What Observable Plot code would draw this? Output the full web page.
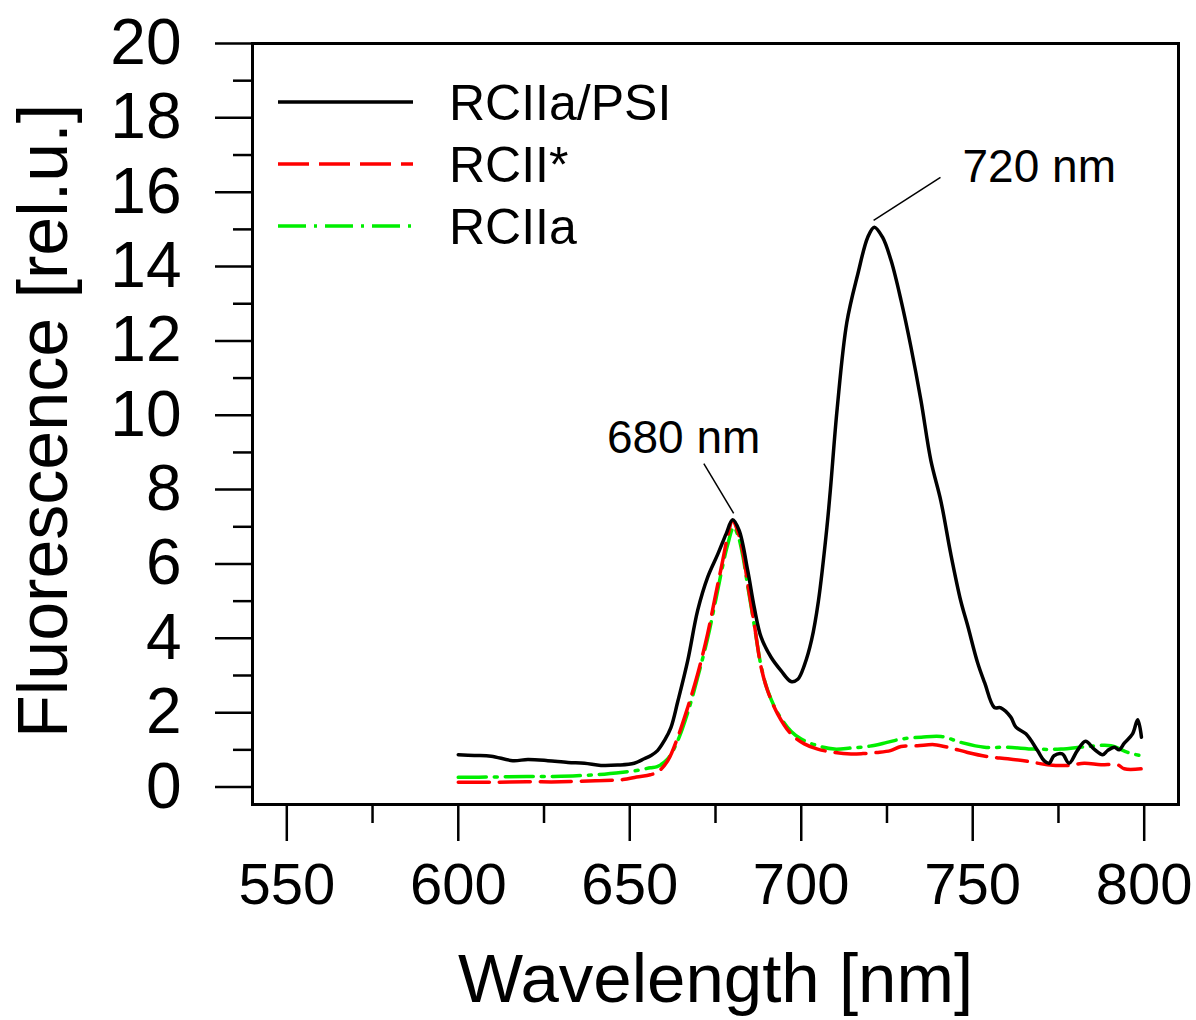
<!DOCTYPE html>
<html><head><meta charset="utf-8">
<script src="https://cdn.jsdelivr.net/npm/d3@7"></script>
<script src="https://cdn.jsdelivr.net/npm/@observablehq/plot@0.6"></script>
<style>body{margin:0;background:#fff;} #chart{width:1196px;height:1020px;}</style>
</head><body><div id="chart"></div>
<script>
const seriesNames = ["RCIIa/PSI", "RCII*", "RCIIa"];

const wlBlack = [600,604.7,609.6,615.9,620.3,626.1,632,636.8,641.6,646.5,651.3,654.2,656.2,658.1,660.1,662,664,666.9,669.8,672.7,675.7,678.1,680,681.9,684.4,686.3,688.3,691.2,694.1,697,699,701,703,705,707.5,708.5,710.5,713.3,716.5,719.4,721.3,723.7,726.2,729.1,732,734.9,737.8,740.7,743.6,746.5,748.5,751.4,753.5,756.3,758.2,761.1,762.6,765.5,768.9,770.8,772.3,773.7,776.1,778.1,780.5,782.9,785.4,787.9,789.3,791.3,792.7,794.2,796.6,798.1,799.2];
const flBlack = [0.87,0.85,0.83,0.71,0.74,0.71,0.66,0.64,0.58,0.59,0.64,0.76,0.85,0.98,1.25,1.6,2.3,3.4,4.75,5.64,6.27,6.81,7.19,6.9,5.82,4.83,4.03,3.49,3.13,2.84,2.9,3.3,3.95,5.0,7.0,8.0,10.2,12.5,13.8,14.79,15.06,14.79,14.16,13.09,11.83,10.4,8.78,7.7,6.27,5.01,4.35,3.35,2.8,2.14,2.13,1.88,1.61,1.43,0.98,0.71,0.64,0.84,0.89,0.64,0.98,1.23,1.02,0.87,0.98,1.07,1.0,1.18,1.43,1.81,1.34];

const wlRed = [600,610,620,630,640,648,652,656,658.1,661.1,664,666.9,669.8,672.7,675.1,677.1,678.5,680,681.4,682.9,684.4,686.3,688.3,690.2,693.1,697,700.9,704.8,709.7,714.5,718,722,726,729.1,733.9,738.8,743.6,748.5,754.3,760.2,766,771.8,777.7,782.5,787.4,792.2,794.2,799.1];
const flRed = [0.13,0.13,0.14,0.14,0.17,0.2,0.27,0.33,0.4,0.71,1.34,2.14,3.04,4.12,5.2,6.09,6.72,7.17,6.9,6.36,5.46,4.39,3.22,2.59,1.97,1.43,1.16,1.02,0.93,0.89,0.9,0.93,0.98,1.09,1.11,1.14,1.05,0.93,0.82,0.76,0.69,0.6,0.58,0.64,0.6,0.6,0.49,0.49];

const wlGreen = [600,610,620,630,640,648,653,656,658,661,664,666.9,669.8,672.7,675.1,677.1,678.5,680.3,681.6,683,684.4,686.3,688.3,690.2,693.1,697,700,704.8,709.7,714.5,720,725,729.1,735,740.8,746.6,753.4,760.2,768,775.7,783.5,790.3,795.2,799.1];
const flGreen = [0.26,0.27,0.28,0.29,0.33,0.4,0.46,0.52,0.55,0.75,1.25,2.0,2.95,4.0,5.05,5.95,6.5,6.99,6.75,6.2,5.4,4.35,3.25,2.6,2.0,1.5,1.29,1.11,1.02,1.05,1.1,1.2,1.29,1.34,1.36,1.2,1.07,1.07,1.02,1.02,1.09,1.11,0.93,0.84];

const xMajorTicks = [550, 600, 650, 700, 750, 800];
const xMinorTicks = [575, 625, 675, 725, 775];
const yMajorTicks = [0, 2, 4, 6, 8, 10, 12, 14, 16, 18, 20];
const yMinorTicks = [1, 3, 5, 7, 9, 11, 13, 15, 17, 19];

const peakLabels = ["680 nm", "720 nm"];
const peakLabelX = [665.7, 769.4];
const peakLabelY = [9.39, 16.68];
const leaderX1 = [671.6, 740.6];
const leaderY1 = [8.70, 16.40];
const leaderX2 = [680.3, 721.1];
const leaderY2 = [7.36, 15.24];

const toRows = (wl, fl, s) => wl.map((w, i) => ({wl: w, f: fl[i], series: s}));
const black = toRows(wlBlack, flBlack, seriesNames[0]);
const red = toRows(wlRed, flRed, seriesNames[1]);
const green = toRows(wlGreen, flGreen, seriesNames[2]);
const peaks = peakLabels.map((t, i) => ({t, x: peakLabelX[i], y: peakLabelY[i], x1: leaderX1[i], y1: leaderY1[i], x2: leaderX2[i], y2: leaderY2[i]}));

const styles = {
  "RCIIa/PSI": {stroke: "#000000", dash: null},
  "RCII*": {stroke: "#ff0000", dash: "31,10"},
  "RCIIa": {stroke: "#00ee00", dash: "28,8,3,8"}
};

const font = "'Liberation Sans', Arial, sans-serif";

const chart = Plot.plot({
  width: 1196, height: 1020,
  marginLeft: 252, marginRight: 18, marginTop: 43, marginBottom: 216,
  x: {domain: [540, 810]},
  y: {domain: [-0.47, 20]},
  style: {fontFamily: font, background: "white", color: "black"},
  marks: [
    Plot.axisX({ticks: xMajorTicks, tickSize: 37, tickPadding: 21, fontSize: 58, label: null, strokeWidth: 2.5, tickFormat: d => String(d)}),
    Plot.axisX({ticks: xMinorTicks, tickSize: 19, text: null, label: null, strokeWidth: 2.5}),
    Plot.axisY({ticks: yMajorTicks, tickSize: 37, tickPadding: 34, fontSize: 64, label: null, strokeWidth: 2.5, tickFormat: d => String(d)}),
    Plot.axisY({ticks: yMinorTicks, tickSize: 19, text: null, label: null, strokeWidth: 2.5}),
    Plot.frame({stroke: "black", strokeWidth: 3}),
    Plot.line(green, {x: "wl", y: "f", stroke: styles["RCIIa"].stroke, strokeWidth: 3.5, strokeDasharray: styles["RCIIa"].dash, curve: "catmull-rom"}),
    Plot.line(red, {x: "wl", y: "f", stroke: styles["RCII*"].stroke, strokeWidth: 3.5, strokeDasharray: styles["RCII*"].dash, curve: "catmull-rom"}),
    Plot.line(black, {x: "wl", y: "f", stroke: styles["RCIIa/PSI"].stroke, strokeWidth: 3.5, curve: "catmull-rom"}),
    Plot.link(peaks, {x1: "x1", y1: "y1", x2: "x2", y2: "y2", stroke: "black", strokeWidth: 1.5}),
    Plot.text(peaks, {x: "x", y: "y", text: "t", fontSize: 46, fill: "black"}),
    Plot.text(["Wavelength [nm]"], {frameAnchor: "bottom", textAnchor: "middle", dy: 197, fontSize: 69, fill: "black"}),
    Plot.text(["Fluorescence [rel.u.]"], {frameAnchor: "left", textAnchor: "middle", dx: -208, dy: -3, rotate: -90, fontSize: 70, fill: "black"})
  ]
});

// Legend inside the plot area (top-left)
const svg = d3.select(chart);
const lg = svg.append("g").attr("font-family", font).attr("text-anchor", "start");
const legendY = [102, 164, 226];
seriesNames.forEach((name, i) => {
  const st = styles[name];
  lg.append("line").attr("x1", 278).attr("x2", 413).attr("y1", legendY[i]).attr("y2", legendY[i])
    .attr("stroke", st.stroke).attr("stroke-width", 3.5).attr("stroke-dasharray", st.dash);
  lg.append("text").attr("x", 449).attr("y", legendY[i] + 18).attr("font-size", 50)
    .attr("text-anchor", "start").attr("fill", "black").text(name);
});

document.getElementById("chart").appendChild(chart);
</script>
</body></html>
